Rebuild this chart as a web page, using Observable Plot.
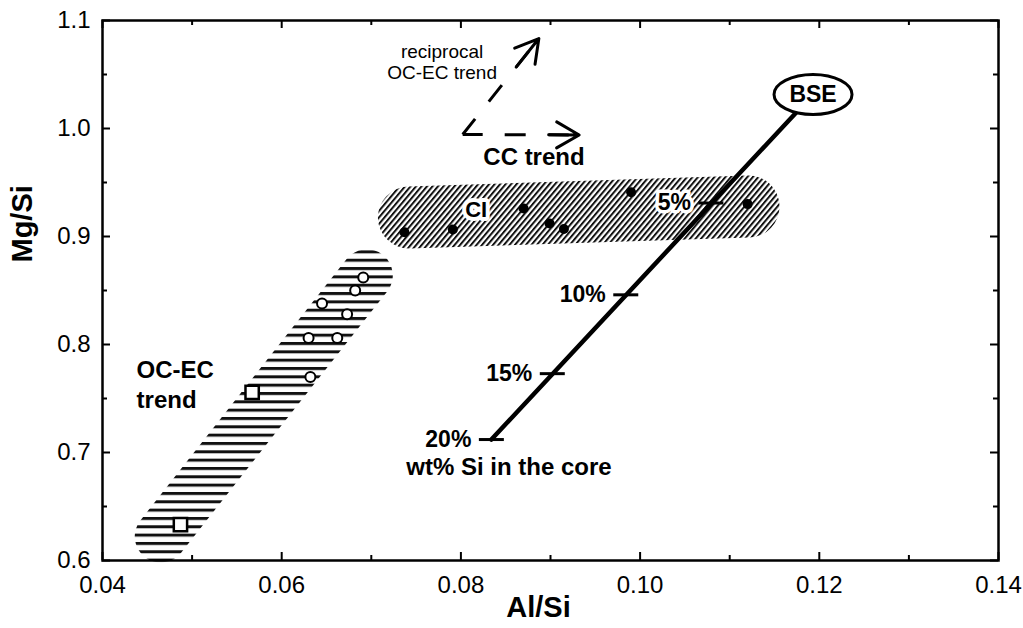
<!DOCTYPE html>
<html><head><meta charset="utf-8">
<script src="https://cdn.jsdelivr.net/npm/d3@7"></script>
<script src="https://cdn.jsdelivr.net/npm/@observablehq/plot@0.6"></script>
<style>body{margin:0;background:#fff;}</style>
</head><body><div id="chart"></div>
<script>
// ---- axis ticks ----
const xMajor = [0.04, 0.06, 0.08, 0.10, 0.12, 0.14];
const xMinor = [0.05, 0.07, 0.09, 0.11, 0.13];
const yMajor = [0.6, 0.7, 0.8, 0.9, 1.0, 1.1];
const yMinor = [0.65, 0.75, 0.85, 0.95, 1.05];

// ---- carbonaceous chondrites (filled) ----
const ciX = [0.0737, 0.0791, 0.0870, 0.0899, 0.0915, 0.0990, 0.1120];
const ciY = [0.904, 0.9065, 0.926, 0.912, 0.907, 0.941, 0.930];
// ---- ordinary / enstatite chondrites (open circles) ----
const ocX = [0.0691, 0.0682, 0.0645, 0.0673, 0.0630, 0.0662, 0.0632];
const ocY = [0.862, 0.850, 0.838, 0.828, 0.806, 0.806, 0.770];
// ---- open squares ----
const sqX = [0.0567, 0.0487];
const sqY = [0.7556, 0.6333];

// ---- trend bands (centre lines) ----
const ccBandX = [0.0742, 0.1121];
const ccBandY = [0.9176, 0.9278];
const ocBandX = [0.0465, 0.0695];
const ocBandY = [0.6222, 0.8640];

// ---- BSE line and wt% Si in core ----
const bseX = [0.0834, 0.1193];
const bseY = [0.712, 1.0315];
const pctLabels = ["5%", "10%", "15%", "20%"];
const pctX = [0.1079, 0.0984, 0.0902, 0.0834];
const pctY = [0.931, 0.846, 0.773, 0.712];

// ---- trend arrows ----
const arrowX1 = [0.0802, 0.0802];
const arrowY1 = [0.9944, 0.9944];
const arrowX2 = [0.0887, 0.0932];
const arrowY2 = [1.0833, 0.9940];

// ---- annotation labels ----
const noteSmallText = ["reciprocal\nOC-EC trend"];
const noteSmallX = [0.0779];
const noteSmallY = [1.062];
const noteBoldText = ["CC trend", "OC-EC\ntrend", "wt% Si in the core"];
const noteBoldX = [0.0825, 0.0438, 0.0739];
const noteBoldY = [0.975, 0.7639, 0.688];
const ciLabel = ["CI"];
const ciLabelX = [0.0817];
const ciLabelY = [0.925];

const ellipse = {
  draw(ctx, size) {
    const r = Math.sqrt(size / Math.PI);
    const rx = r * 1.95, ry = r, k = 0.5523;
    ctx.moveTo(rx, 0);
    ctx.bezierCurveTo(rx, k * ry, k * rx, ry, 0, ry);
    ctx.bezierCurveTo(-k * rx, ry, -rx, k * ry, -rx, 0);
    ctx.bezierCurveTo(-rx, -k * ry, -k * rx, -ry, 0, -ry);
    ctx.bezierCurveTo(k * rx, -ry, rx, -k * ry, rx, 0);
    ctx.closePath();
  }
};
const hdash = {
  draw(ctx, size) {
    const r = Math.sqrt(size / Math.PI);
    ctx.moveTo(-r, 0);
    ctx.lineTo(r, 0);
  }
};

const font = "'Liberation Sans', Arial, Helvetica, sans-serif";
const idx = (a) => a.map((_, i) => i);
const W = 1023, H = 628, ML = 102, MR = 25, MT = 20, MB = 68;
const innerW = W - ML - MR, innerH = H - MT - MB;
const tickStyle = {stroke: "black", strokeWidth: 2};

const chart = Plot.plot({
  width: W,
  height: H,
  marginLeft: ML,
  marginRight: MR,
  marginTop: MT,
  marginBottom: MB,
  style: {fontFamily: font, fontSize: "24px", color: "black", background: "white"},
  x: {domain: [0.04, 0.14]},
  y: {domain: [0.6, 1.1]},
  marks: [
    // hatched bands
    Plot.line(idx(ccBandX), {x: (i) => ccBandX[i], y: (i) => ccBandY[i], stroke: "url(#hatchDiag)", strokeWidth: 62, strokeLinecap: "round"}),
    Plot.line(idx(ocBandX), {x: (i) => ocBandX[i], y: (i) => ocBandY[i], stroke: "url(#hatchHoriz)", strokeWidth: 52, strokeLinecap: "round"}),

    // axes: labels only
    Plot.axisX({ticks: xMajor, tickFormat: d3.format(".2f"), tickSize: 0, tickPadding: 15, label: null, fontSize: 24}),
    Plot.axisY({ticks: yMajor, tickFormat: d3.format(".1f"), tickSize: 0, tickPadding: 12, label: null, fontSize: 24}),
    // inward ticks on all four sides
    Plot.tickX(xMajor, {x: (d) => d, insetTop: innerH - 8, ...tickStyle}),
    Plot.tickX(xMinor, {x: (d) => d, insetTop: innerH - 5, ...tickStyle}),
    Plot.tickX(xMajor, {x: (d) => d, insetBottom: innerH - 8, ...tickStyle}),
    Plot.tickX(xMinor, {x: (d) => d, insetBottom: innerH - 5, ...tickStyle}),
    Plot.tickY(yMajor, {y: (d) => d, insetRight: innerW - 8, ...tickStyle}),
    Plot.tickY(yMinor, {y: (d) => d, insetRight: innerW - 5, ...tickStyle}),
    Plot.tickY(yMajor, {y: (d) => d, insetLeft: innerW - 8, ...tickStyle}),
    Plot.tickY(yMinor, {y: (d) => d, insetLeft: innerW - 5, ...tickStyle}),
    Plot.frame({stroke: "black", strokeWidth: 2.5}),

    // axis titles
    Plot.text(["Al/Si"], {frameAnchor: "bottom", dy: 56, dx: -12, fontSize: 29, fontWeight: "bold"}),
    Plot.text(["Mg/Si"], {frameAnchor: "left", rotate: -90, dx: -80, dy: -28, fontSize: 29, fontWeight: "bold"}),

    // BSE line with wt% ticks
    Plot.line(idx(bseX), {x: (i) => bseX[i], y: (i) => bseY[i], stroke: "black", strokeWidth: 4.5}),
    Plot.dot(idx(pctX), {x: (i) => pctX[i], y: (i) => pctY[i], symbol: hdash, r: 12.5, stroke: "black", strokeWidth: 3, fill: "none"}),
    Plot.text(idx(pctX), {x: (i) => pctX[i], y: (i) => pctY[i], text: (i) => pctLabels[i], textAnchor: "end", dx: -20, fontSize: 23, fontWeight: "bold", stroke: "white", strokeWidth: 7, fill: "black"}),
    Plot.dot([0], {x: () => bseX[1], y: () => bseY[1], symbol: ellipse, r: 20, fill: "white", stroke: "black", strokeWidth: 3}),
    Plot.text(["BSE"], {x: () => bseX[1], y: () => bseY[1], fontSize: 23, fontWeight: "bold"}),

    // trend arrows (dashed shaft + solid head part)
    Plot.link(idx(arrowX1), {x1: (i) => arrowX1[i], y1: (i) => arrowY1[i], x2: (i) => arrowX2[i], y2: (i) => arrowY2[i], stroke: "black", strokeWidth: 3, strokeDasharray: "20,22,21,23"}),
    Plot.arrow(idx(arrowX1), {x1: (i) => arrowX1[i], y1: (i) => arrowY1[i], x2: (i) => arrowX2[i], y2: (i) => arrowY2[i], stroke: "black", strokeWidth: 3, insetStart: 86, headLength: 13, headAngle: 60}),

    // data points
    Plot.dot(idx(ocX), {x: (i) => ocX[i], y: (i) => ocY[i], r: 5, fill: "white", stroke: "black", strokeWidth: 2}),
    Plot.dot(idx(sqX), {x: (i) => sqX[i], y: (i) => sqY[i], symbol: "square", r: 7.5, fill: "white", stroke: "black", strokeWidth: 2.5}),
    Plot.dot(idx(ciX), {x: (i) => ciX[i], y: (i) => ciY[i], r: 5, fill: "black"}),

    // annotations
    Plot.text(ciLabel, {x: () => ciLabelX[0], y: () => ciLabelY[0], fontSize: 22, fontWeight: "bold", stroke: "white", strokeWidth: 8, fill: "black"}),
    Plot.text(noteSmallText, {x: (d, i) => noteSmallX[i], y: (d, i) => noteSmallY[i], fontSize: 19, lineHeight: 1.15}),
    Plot.text(noteBoldText, {x: (d, i) => noteBoldX[i], y: (d, i) => noteBoldY[i], textAnchor: "start", fontSize: 24, fontWeight: "bold", lineHeight: 1.25})
  ]
});

const svg = d3.select(chart);
const defs = svg.insert("defs", ":first-child");
const pd = defs.append("pattern").attr("id", "hatchDiag").attr("patternUnits", "userSpaceOnUse")
  .attr("width", 4.2).attr("height", 4.2).attr("patternTransform", "rotate(40)");
pd.append("rect").attr("x", 0).attr("y", 0).attr("width", 2).attr("height", 4.2).attr("fill", "#111");
const ph = defs.append("pattern").attr("id", "hatchHoriz").attr("patternUnits", "userSpaceOnUse")
  .attr("width", 10).attr("height", 8.33);
ph.append("rect").attr("x", 0).attr("y", 0).attr("width", 10).attr("height", 3).attr("fill", "#111");

document.getElementById("chart").appendChild(chart);
</script>
</body></html>
